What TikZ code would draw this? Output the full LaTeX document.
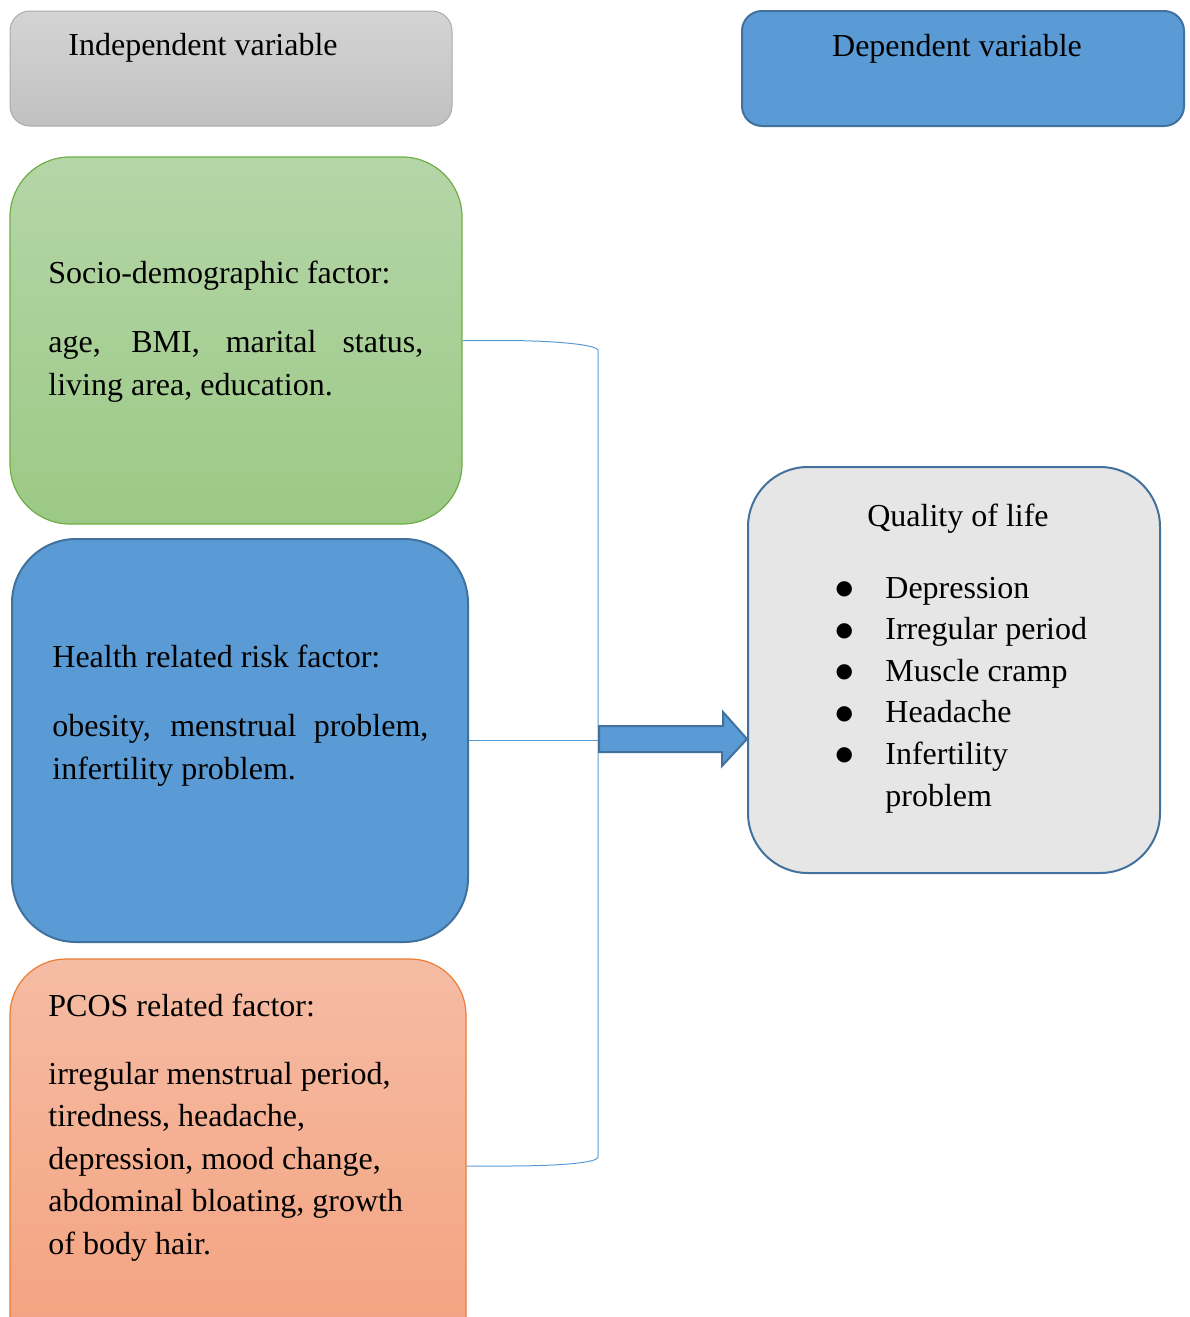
\documentclass[tikz,border=0pt]{standalone}
\usepackage{fontspec}
\setmainfont{Liberation Serif}
\newfontfamily\symfont{DejaVu Sans}
\usetikzlibrary{calc}
\definecolor{accblue}{HTML}{5B9BD5}
\definecolor{darkblue}{HTML}{41719C}
\definecolor{grtop}{HTML}{D4D4D4}
\definecolor{grbot}{HTML}{C1C1C1}
\definecolor{grline}{HTML}{ABABAB}
\definecolor{gntop}{HTML}{B5D6A8}
\definecolor{gnbot}{HTML}{9CC985}
\definecolor{gnline}{HTML}{70AD47}
\definecolor{ortop}{HTML}{F5BCA4}
\definecolor{orbot}{HTML}{F4A07C}
\definecolor{orline}{HTML}{ED7D31}
\definecolor{qfill}{HTML}{E7E6E6}
\newcommand{\qitem}{\leavevmode\llap{\makebox[0pt]{\raisebox{1.8pt}{\symfont\fontsize{10}{10}\selectfont ●}}\hspace{20.5pt}}}

\begin{document}
\begin{tikzpicture}[x=0.5pt,y=-0.5pt,
    box/.style={rounded corners=#1, inner sep=0pt},
    txt/.style={font=\fontsize{16}{21.4}\selectfont, inner sep=0pt, anchor=base west, align=left},
    link/.style={draw=accblue, line width=0.5pt},
    bigarrow/.style={fill=accblue, draw=darkblue, line width=1pt}]
  \useasboundingbox (0,0) rectangle (1189,1317);
  \clip (0,0) rectangle (1189,1317);

  % header boxes
  \node[box=10pt, minimum width=221pt, minimum height=57.5pt, top color=grtop, bottom color=grbot, draw=grline, line width=0.5pt] (indep) at (231,68.5) {};
  \node[box=10pt, minimum width=221pt, minimum height=57.5pt, fill=accblue, draw=darkblue, line width=1pt] (dep) at (963,68.5) {};
  \node[txt] (indeptxt) at (68,55) {Independent variable};
  \node[txt, anchor=base] (deptxt) at (957,56) {Dependent variable};

  % factor boxes
  \node[box=30pt, minimum width=226pt, minimum height=183.5pt, top color=gntop, bottom color=gnbot, draw=gnline, line width=0.6pt] (socio) at (236,340.5) {};
  \node[box=32pt, minimum width=228pt, minimum height=201.5pt, fill=accblue, draw=darkblue, line width=1pt] (health) at (240,740.5) {};
  \node[box=28pt, minimum width=228pt, minimum height=207pt, top color=ortop, bottom color=orbot, draw=orline, line width=0.6pt] (pcos) at (238,1166) {};
  \node[box=30pt, minimum width=206pt, minimum height=203pt, fill=qfill, draw=darkblue, line width=1pt] (quality) at (954,670) {};

  % texts (multi-line ones sit on their last line)
  \node[txt] (sociohead) at (48,283) {Socio-demographic factor:};
  \node[txt] (sociobody) at (48,395) {\makebox[187.5pt][s]{age, BMI, marital status,}\\living area, education.};
  \node[txt] (healthhead) at (52,667) {Health related risk factor:};
  \node[txt] (healthbody) at (52,779) {\makebox[188pt][s]{obesity, menstrual problem,}\\infertility problem.};
  \node[txt] (pcoshead) at (48,1016) {PCOS related factor:};
  \node[txt, font=\fontsize{16}{21.25}\selectfont] (pcosbody) at (48,1254) {irregular menstrual period,\\tiredness, headache,\\depression, mood change,\\abdominal bloating, growth\\of body hair.};

  \node[txt, anchor=base] (qtitle) at (958,526) {Quality of life};
  \node[txt, font=\fontsize{16}{20.8}\selectfont] (qlist) at (885,806) {\qitem Depression\\\qitem Irregular period\\\qitem Muscle cramp\\\qitem Headache\\\qitem Infertility\\problem};

  % bracket and arrow
  \coordinate (jn) at (598,739);
  \draw[link] (socio.east) -- ++(40,0) .. controls +(50,0) and +(0,-6) .. ($(socio.east -| jn)+(0,10)$)
    -- ($(pcos.east -| jn)+(0,-9)$) .. controls +(0,6) and +(50,0) .. ($(pcos.east)+(40,0)$) -- (pcos.east);
  \draw[link] (health.east) -- (health.east -| jn);
  \draw[bigarrow] ($(jn)+(1,-13)$) -- ++(124,0) -- ++(0,-14) -- (quality.west |- jn) -- ++(-25,27) -- ++(0,-14) -- ($(jn)+(1,13)$) -- cycle;
\end{tikzpicture}
\end{document}
